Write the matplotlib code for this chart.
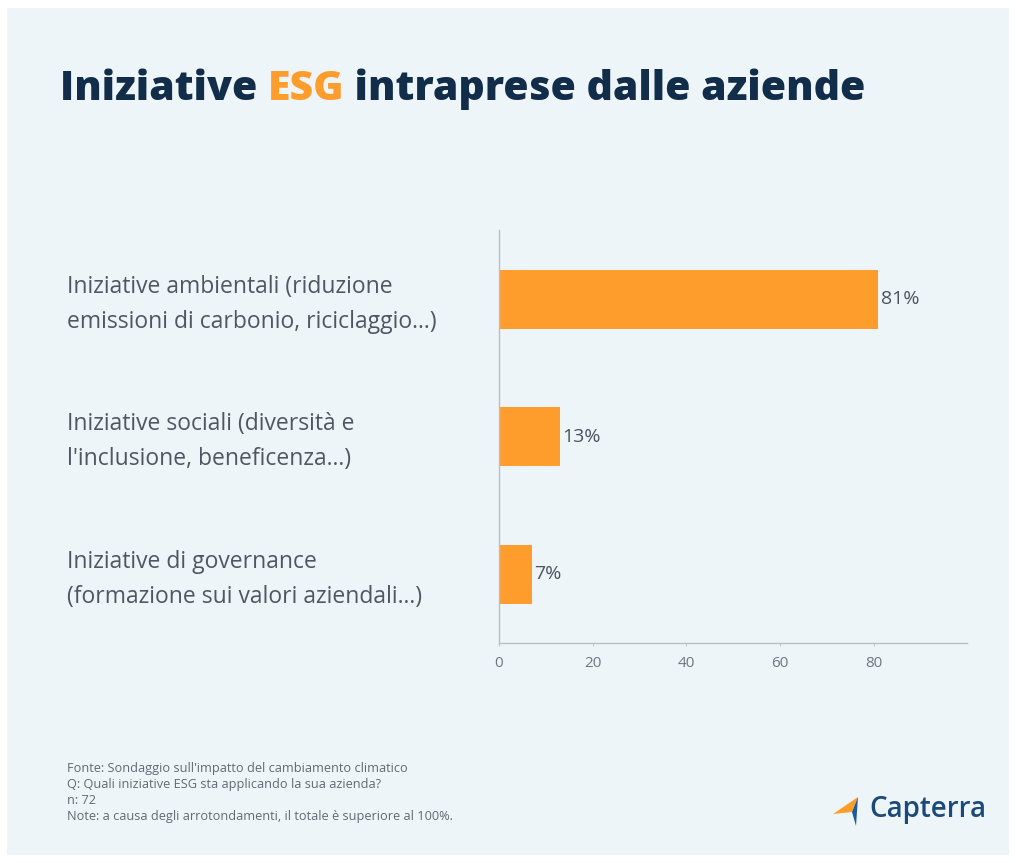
import matplotlib.pyplot as plt
from matplotlib.patches import Polygon, Rectangle

plt.rcParams['font.family'] = ['Open Sans', 'DejaVu Sans']

categories = [
    'Iniziative ambientali (riduzione\nemissioni di carbonio, riciclaggio...)',
    'Iniziative sociali (diversità e\nl\'inclusione, beneficenza...)',
    'Iniziative di governance\n(formazione sui valori aziendali...)',
]
values = [81, 13, 7]
value_labels = ['81%', '13%', '7%']
xticks = [0, 20, 40, 60, 80]

footnotes = [
    'Fonte: Sondaggio sull\'impatto del cambiamento climatico',
    'Q: Quali iniziative ESG sta applicando la sua azienda?',
    'n: 72',
    'Note: a causa degli arrotondamenti, il totale è superiore al 100%.',
]

W, H = 1016, 863
bg = '#eef5f8'
orange = '#fe9d2b'
navy = '#112d4a'
grey = '#4f5862'

fig = plt.figure(figsize=(W / 100, H / 100), dpi=100)
fig.patch.set_facecolor('white')
# light panel inside a thin white frame
fig.patches.append(Rectangle((7 / W, 8 / H), 1 - 14 / W, 1 - 16 / H,
                             transform=fig.transFigure, facecolor=bg,
                             edgecolor='none', zorder=-5))

ax = fig.add_axes([0.491, 0.255, 0.461, 0.478], zorder=2)
ax.set_facecolor('none')
ypos = list(range(len(values)))
ax.barh(ypos, values, height=0.43, color=orange)
ax.set_ylim(2.5, -0.5)
ax.set_xlim(0, 100)
ax.set_xticks(xticks)
ax.set_yticks([])
for y, v, lab in zip(ypos, values, value_labels):
    ax.text(v + 0.5, y + 0.0, lab, va='center', ha='left', fontsize=14, color='#4a545e')
for s in ['top', 'right']:
    ax.spines[s].set_visible(False)
for s in ['left', 'bottom']:
    ax.spines[s].set_color('#b8bfc6')
    ax.spines[s].set_linewidth(1.0)
ax.tick_params(axis='x', colors='#c3c9cf', labelcolor='#6f7881', labelsize=11,
               length=2.5, pad=7)

# category labels on the left side
for y, cat in zip(ypos, categories):
    fy = ax.transData.transform((0, y))[1]
    fig.text(67 / W, fig.transFigure.inverted().transform((0, fy))[1] - 0.006, cat,
             ha='left', va='center', fontsize=16.5, color=grey, linespacing=1.6)

# title in three pieces so ESG can be orange
fig.canvas.draw()
r = fig.canvas.get_renderer()
x0 = 60 / W
ty = 1 - 100 / H
for part, col in [('Iniziative ', navy), ('ESG', orange), (' intraprese dalle aziende', navy)]:
    t = fig.text(x0, ty, part, fontsize=29.5, fontweight='heavy', color=col,
                 ha='left', va='baseline')
    bb = t.get_window_extent(renderer=r)
    x0 += bb.width / W

# footnotes
for i, line in enumerate(footnotes):
    fig.text(67 / W, 1 - (768 + i * 16.3) / H, line, fontsize=9.2,
             color='#626a72', va='center', ha='left')

# Capterra logo: arrow mark plus word
def px(pts):
    return [(x, H - y) for x, y in pts]

fig.patches.append(Polygon(px([(833, 814), (858, 797), (852, 812)]), closed=True,
                           transform=None, facecolor='#ff9d28', edgecolor='none'))
fig.patches.append(Polygon(px([(858, 797), (852, 812), (856, 826)]), closed=True,
                           transform=None, facecolor='#1c5a9c', edgecolor='none'))
fig.text(869 / W, 1 - 809 / H, 'Capterra', fontsize=20, fontweight='semibold',
         color='#1b4a7a', ha='left', va='center')

fig.savefig('out.png', dpi=100)
